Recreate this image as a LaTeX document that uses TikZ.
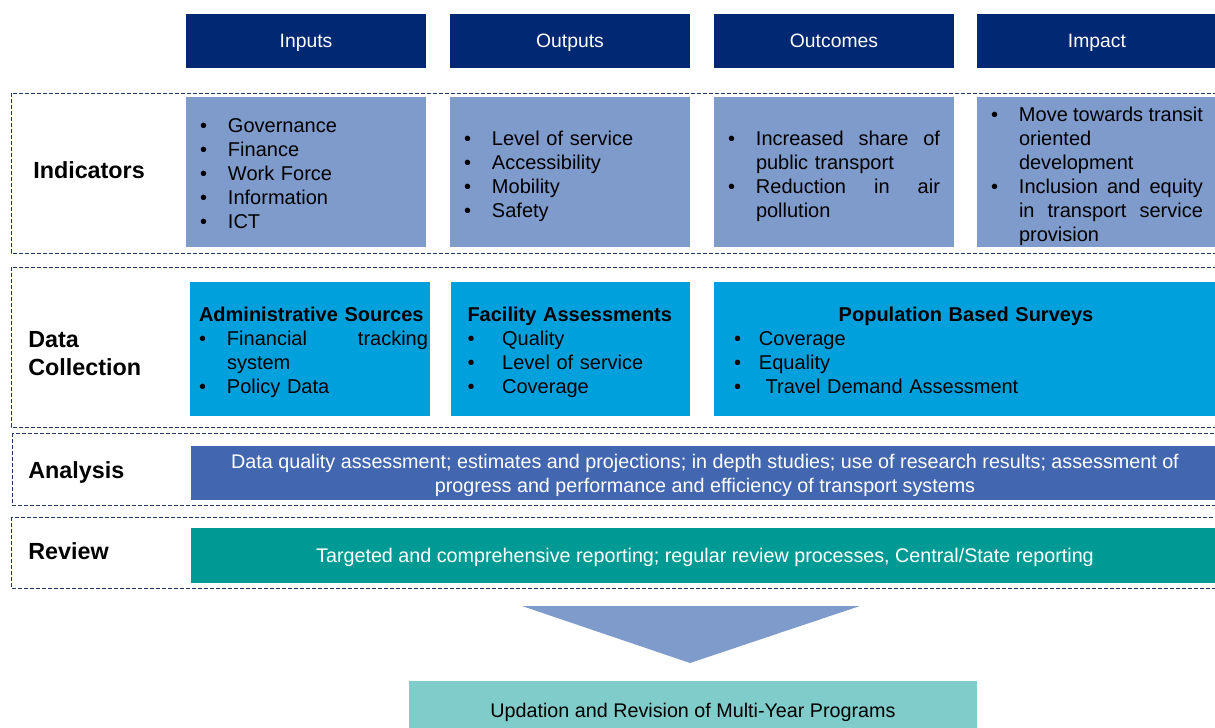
\documentclass[tikz,border=0pt]{standalone}
\usepackage{fontspec}
\setmainfont{Liberation Sans}
\definecolor{headblue}{RGB}{0,40,115}
\definecolor{indblue}{RGB}{127,155,204}
\definecolor{datablue}{RGB}{0,160,220}
\definecolor{anablue}{RGB}{66,102,176}
\definecolor{revteal}{RGB}{0,154,148}
\definecolor{progteal}{RGB}{128,204,202}
\definecolor{framenavy}{RGB}{31,56,100}
\newcommand{\bul}[2][21pt]{\par\noindent\hangindent=#1\relax\hangafter=1\relax\makebox[#1][l]{\textbullet}#2\par}
\tikzset{
  head/.style={fill=headblue, text=white, minimum width=180pt, minimum height=40.5pt,
    inner sep=0pt, text height=10.4pt, text depth=0pt, font=\fontsize{14.5}{17}\selectfont},
  indbox/.style={fill=indblue, minimum width=180pt, minimum height=112.5pt, inner sep=0pt,
    text width=159pt, align=left, font=\fontsize{15}{18}\selectfont},
  databox/.style={fill=datablue, minimum height=100.5pt, inner sep=0pt,
    align=left, font=\fontsize{15}{18}\selectfont},
  bandbox/.style={text=white, minimum width=771pt, inner sep=0pt, text depth=0pt,
    font=\fontsize{14.8}{18}\selectfont},
  rowlabel/.style={anchor=west, inner sep=0pt, align=left, font=\fontsize{17.5}{21}\selectfont\bfseries},
  frame/.style={draw=framenavy, line width=0.75pt, dash pattern=on 3pt off 1.5pt}
}
\begin{document}
\begin{tikzpicture}[x=0.75pt, y=-0.75pt]
  \useasboundingbox (0,0) rectangle (1215,728);
  \node[head] (inputs) at (306,41) {Inputs};
  \node[head] (outputs) at (570,41) {Outputs};
  \node[head] (outcomes) at (834,41) {Outcomes};
  \node[head] (impact) at (1097,41) {Impact};

  \draw[frame] (11,93) rectangle (1225,253);
  \draw[frame] (11,267) rectangle (1225,427);
  \draw[frame] (12,433) rectangle (1225,505);
  \draw[frame] (11,517) rectangle (1225,588);

  \node[rowlabel] (indicators) at (33,170) {Indicators};
  \node[rowlabel] (datacoll) at (28,354) {Data\\Collection};
  \node[rowlabel] (analysis) at (28,472) {Analysis};
  \node[rowlabel] (review) at (28,551) {Review};

  \node[indbox] (indinputs) at (306,172) {\vspace*{-4.5pt}\bul{Governance}\bul{Finance}\bul{Work Force}\bul{Information}\bul{ICT}};
  \node[indbox] (indoutputs) at (570,172) {\bul{Level of service}\bul{Accessibility}\bul{Mobility}\bul{Safety}};
  \node[indbox] (indoutcomes) at (834,172) {\bul{Increased\hfill share\hfill of\newline public transport}\bul{Reduction\hfill in\hfill air\newline pollution}};
  \node[indbox] (indimpact) at (1097,172) {\bul{Move\hfill towards\hfill transit\newline oriented\newline development}\bul{Inclusion\hfill and\hfill equity\newline in\hfill transport\hfill service\newline provision}};

  \node[databox, minimum width=180pt, text width=177pt] (admin) at (310,349)
    {\leftskip=5.25pt\rule{0pt}{15.5pt}\textbf{Administrative Sources}\par\bul{Financial\hfill tracking\newline system}\bul{Policy Data}};
  \node[databox, minimum width=179pt, text width=154.5pt] (facility) at (570.5,349)
    {\rule{0pt}{15.5pt}\textbf{Facility Assessments}\par\bul[26pt]{Quality}\bul[26pt]{Level of service}\bul[26pt]{Coverage}};
  \node[databox, minimum width=378pt, text width=348pt] (population) at (966,349)
    {\hspace*{\fill}\rule{0pt}{12.5pt}\textbf{Population Based Surveys}\hspace*{\fill}\par\bul[18.75pt]{Coverage}\bul[18.75pt]{Equality}\bul[18.75pt]{\ Travel Demand Assessment}};

  \node[bandbox, fill=anablue, minimum height=40.5pt, align=center] (anabox) at (705,473)
    {Data quality assessment; estimates and projections; in depth studies; use of research results; assessment of\\progress and performance and efficiency of transport systems};
  \node[bandbox, fill=revteal, minimum height=41.25pt] (revbox) at (705,555.5)
    {Targeted and comprehensive reporting; regular review processes, Central/State reporting};

  \fill[indblue] (522,606) -- (860,606) -- (690,663) -- cycle;

  \node[fill=progteal, minimum width=426pt, minimum height=44.25pt, inner sep=0pt, text depth=0pt,
    font=\fontsize{14.8}{17}\selectfont] (programs) at (693,710.5)
    {Updation and Revision of Multi-Year Programs};
\end{tikzpicture}
\end{document}
